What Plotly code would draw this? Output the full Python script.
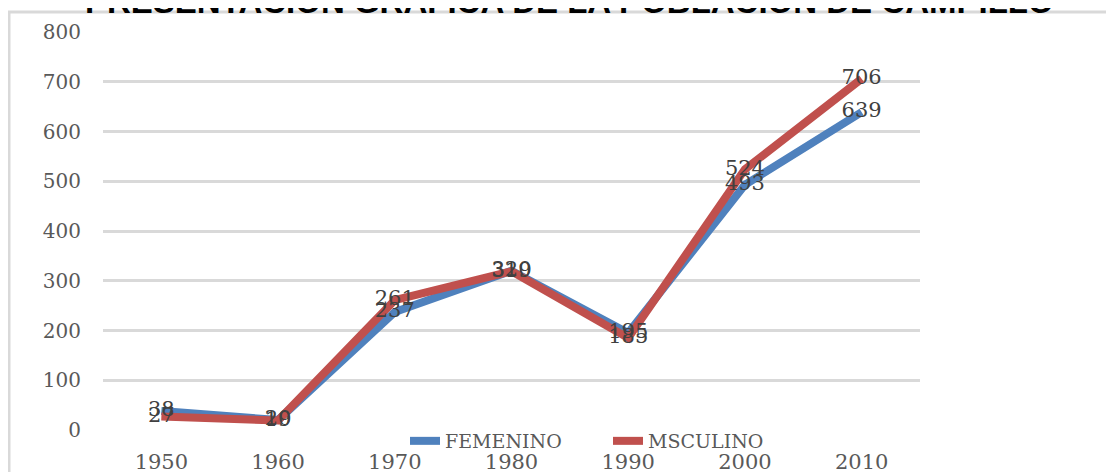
import plotly.graph_objects as go

years = ["1950", "1960", "1970", "1980", "1990", "2000", "2010"]
femenino = [38, 20, 237, 320, 195, 493, 639]
masculino = [27, 19, 261, 319, 185, 524, 706]
y_ticks = [0, 100, 200, 300, 400, 500, 600, 700, 800]
title_text = "PRESENTACIÓN GRÁFICA DE LA POBLACIÓN DE CAMPILLO"

BLUE = "#4f81bd"
RED = "#c0504d"
GRAY_TXT = "#595959"
SERIF = "DejaVu Serif"

fig = go.Figure()
fig.add_trace(go.Scatter(x=years, y=femenino, mode="lines", name="FEMENINO",
                         line=dict(color=BLUE, width=8)))
fig.add_trace(go.Scatter(x=years, y=masculino, mode="lines", name="MSCULINO",
                         line=dict(color=RED, width=8)))
for vals in (femenino, masculino):
    fig.add_trace(go.Scatter(x=years, y=vals, mode="text", text=[str(v) for v in vals],
                             textposition="middle center", showlegend=False,
                             textfont=dict(family=SERIF, size=21, color="#404040"),
                             hoverinfo="skip"))

# the page body adds an 8px offset; compensate so the picture matches
OFF = 8
W, H = 1114, 472
L, T = 103 - OFF, 32 - OFF
pw, ph = 817, 398
R = W - L - pw
B = H - T - ph

def px_x(img_px):
    return (img_px - OFF - L) / pw

def px_y(img_py):
    return (H - B - (img_py - OFF)) / ph

fig.update_layout(
    width=W, height=H,
    margin=dict(l=L, r=R, t=T, b=B, autoexpand=False),
    paper_bgcolor="white", plot_bgcolor="white",
    showlegend=True,
    legend=dict(orientation="h", x=px_x(405), xanchor="left",
                y=px_y(441), yanchor="middle",
                font=dict(family=SERIF, size=19, color=GRAY_TXT),
                bgcolor="rgba(0,0,0,0)", entrywidth=158, entrywidthmode="pixels",
                tracegroupgap=0),
    xaxis=dict(type="category", range=[-0.5, 6.5], automargin=False,
               showgrid=False, zeroline=False, showline=False,
               ticks="outside", ticklen=13, tickcolor="rgba(0,0,0,0)",
               tickfont=dict(family=SERIF, size=21, color=GRAY_TXT)),
    yaxis=dict(range=[0, 800], tickvals=y_ticks, automargin=False,
               showgrid=True, gridcolor="#d9d9d9",
               gridwidth=3, zeroline=False, showline=False,
               ticks="outside", ticklen=17, tickcolor="rgba(0,0,0,0)",
               tickfont=dict(family=SERIF, size=20, color=GRAY_TXT)),
    shapes=[dict(type="rect", xref="paper", yref="paper",
                 x0=px_x(9), x1=px_x(1300),
                 y0=px_y(600), y1=px_y(12),
                 line=dict(color="#d9d9d9", width=3), fillcolor="rgba(0,0,0,0)",
                 layer="below")],
    annotations=[dict(text="<b>" + title_text + "</b>", xref="paper", yref="paper",
                      x=px_x(569), y=px_y(1),
                      xanchor="center", yanchor="middle", showarrow=False,
                      font=dict(family="Liberation Sans", size=33, color="black"))],
)

fig.write_html("out.html")
